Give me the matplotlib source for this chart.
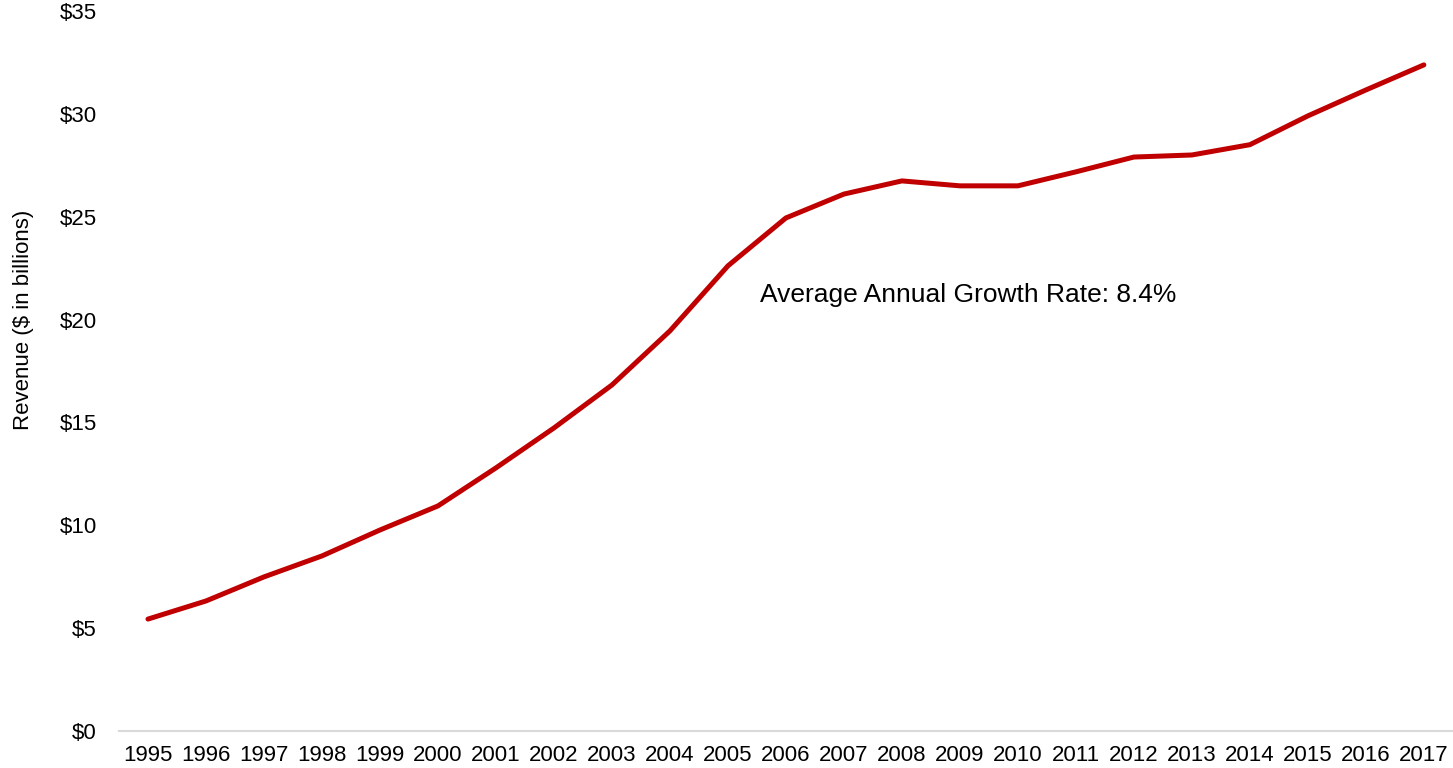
import matplotlib.pyplot as plt
from matplotlib.ticker import FuncFormatter

years = [str(y) for y in range(1995, 2018)]
revenue = [5.44, 6.32, 7.49, 8.51, 9.77, 10.94, 12.79, 14.73, 16.82, 19.45,
           22.61, 24.94, 26.10, 26.74, 26.50, 26.50, 27.18, 27.90, 28.00, 28.50,
           29.90, 31.16, 32.38]
y_ticks = [0, 5, 10, 15, 20, 25, 30, 35]
note = "Average Annual Growth Rate: 8.4%"

plt.rcParams["font.family"] = ["Liberation Sans", "DejaVu Sans"]

fig = plt.figure(figsize=(14.53, 7.68), dpi=100)
ax = fig.add_axes([0.0819, 0.0482, 0.918, 0.9375])

x = list(range(len(years)))
ax.plot(x, revenue, color="#c00000", linewidth=3.6, solid_capstyle="round")

ax.set_xlim(-0.5, len(years) - 0.5)
ax.set_ylim(0, 35)
ax.set_xticks(x)
ax.set_xticklabels(years)
ax.set_yticks(y_ticks)
ax.yaxis.set_major_formatter(FuncFormatter(lambda v, _: f"${v:.0f}"))
ax.tick_params(axis="both", length=0, labelsize=16, colors="#000000")
ax.tick_params(axis="y", pad=16)
ax.tick_params(axis="x", pad=10)

for side in ["top", "right", "left"]:
    ax.spines[side].set_visible(False)
ax.spines["bottom"].set_color("#d9d9d9")
ax.spines["bottom"].set_linewidth(1.5)

ax.set_ylabel("Revenue ($ in billions)", fontsize=16)
ax.yaxis.set_label_coords(-0.0635, 0.571)
ax.text(10.55, 21.2, note, fontsize=19, va="center", ha="left")

fig.savefig("out.png", dpi=100)
